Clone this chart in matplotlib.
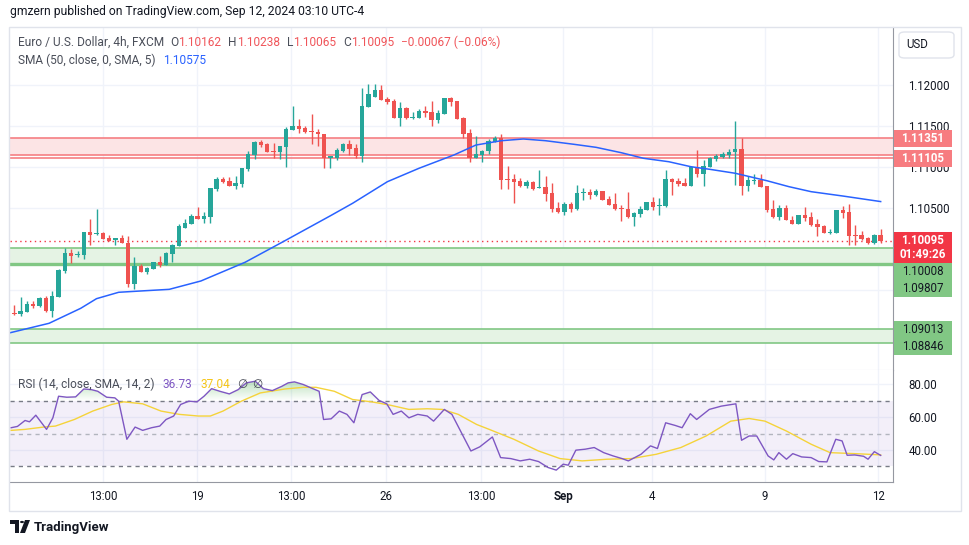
import numpy as np
import matplotlib
matplotlib.use('Agg')
import matplotlib.pyplot as plt
from matplotlib.patches import Rectangle, Polygon, Circle
from matplotlib.path import Path

plt.rcParams['font.family'] = ['Roboto', 'DejaVu Sans']

# EUR/USD 4h candles
opens = [1.09216, 1.09201, 1.09229, 1.09323, 1.09298, 1.09400, 1.09241, 1.09412, 1.09730, 1.09943,
         1.09922, 1.09925, 1.10203, 1.10175, 1.10194, 1.10130, 1.10101, 1.10130, 1.10072, 1.09571,
         1.09787, 1.09718, 1.09751, 1.09836, 1.09800, 1.09938, 1.10035, 1.10252, 1.10301, 1.10399,
         1.10366, 1.10390, 1.10732, 1.10851, 1.10823, 1.10765, 1.10793, 1.10973, 1.11144, 1.11303,
         1.11279, 1.11193, 1.11181, 1.11246, 1.11454, 1.11499, 1.11478, 1.11438, 1.11429, 1.11401,
         1.11111, 1.11104, 1.11197, 1.11279, 1.11230, 1.11136, 1.11735, 1.11857, 1.11939, 1.11829,
         1.11804, 1.11600, 1.11719, 1.11600, 1.11600, 1.11682, 1.11670, 1.11576, 1.11649, 1.11837,
         1.11804, 1.11597, 1.11410, 1.11111, 1.11148, 1.11189, 1.11307, 1.11348, 1.10847, 1.10851,
         1.10823, 1.10769, 1.10814, 1.10741, 1.10753, 1.10680, 1.10496, 1.10447, 1.10545, 1.10484,
         1.10680, 1.10696, 1.10655, 1.10704, 1.10606, 1.10545, 1.10493, 1.10484, 1.10386, 1.10423,
         1.10472, 1.10566, 1.10524, 1.10524, 1.10851, 1.10826, 1.10802, 1.10769, 1.11001, 1.10916,
         1.11001, 1.11095, 1.11123, 1.11144, 1.11177, 1.11218, 1.10769, 1.10826, 1.10839, 1.10765,
         1.10480, 1.10390, 1.10493, 1.10346, 1.10304, 1.10411, 1.10386, 1.10301, 1.10276, 1.10194,
         1.10194, 1.10468, 1.10447, 1.10170, 1.10166, 1.10126, 1.10065, 1.10162]
highs = [1.09311, 1.09412, 1.09363, 1.09359, 1.09412, 1.09421, 1.09482, 1.09751, 1.10007, 1.09995,
         1.09971, 1.10207, 1.10362, 1.10484, 1.10203, 1.10166, 1.10130, 1.10166, 1.10154, 1.09901,
         1.09812, 1.09779, 1.09836, 1.09913, 1.09962, 1.10056, 1.10301, 1.10362, 1.10423, 1.10509,
         1.10447, 1.10745, 1.10872, 1.10872, 1.10879, 1.10888, 1.10990, 1.11193, 1.11310, 1.11328,
         1.11285, 1.11287, 1.11254, 1.11487, 1.11743, 1.11584, 1.11499, 1.11649, 1.11462, 1.11405,
         1.11128, 1.11230, 1.11295, 1.11324, 1.11279, 1.11960, 1.12012, 1.12012, 1.12000, 1.11857,
         1.11829, 1.11789, 1.11725, 1.11666, 1.11707, 1.11743, 1.11801, 1.11694, 1.11841, 1.11857,
         1.11810, 1.11609, 1.11458, 1.11377, 1.11202, 1.11336, 1.11377, 1.11401, 1.11010, 1.10908,
         1.10859, 1.10839, 1.10826, 1.10965, 1.10888, 1.10802, 1.10570, 1.10566, 1.10566, 1.10781,
         1.10744, 1.10729, 1.10729, 1.10710, 1.10639, 1.10680, 1.10533, 1.10692, 1.10444, 1.10524,
         1.10570, 1.10634, 1.10615, 1.10961, 1.10867, 1.10859, 1.10859, 1.11004, 1.11209, 1.11083,
         1.11120, 1.11153, 1.11181, 1.11218, 1.11560, 1.11348, 1.10891, 1.10908, 1.10908, 1.10771,
         1.10590, 1.10533, 1.10533, 1.10399, 1.10411, 1.10509, 1.10451, 1.10362, 1.10283, 1.10243,
         1.10472, 1.10521, 1.10549, 1.10289, 1.10215, 1.10136, 1.10178, 1.10238]
lows = [1.09188, 1.09176, 1.09225, 1.09277, 1.09292, 1.09229, 1.09160, 1.09405, 1.09705, 1.09828,
        1.09901, 1.09877, 1.10044, 1.10166, 1.10113, 1.10093, 1.10048, 1.10065, 1.09531, 1.09510,
        1.09718, 1.09686, 1.09745, 1.09779, 1.09794, 1.09836, 1.10032, 1.10246, 1.10295, 1.10366,
        1.10317, 1.10317, 1.10708, 1.10802, 1.10765, 1.10732, 1.10757, 1.10949, 1.11099, 1.11242,
        1.11175, 1.11108, 1.11099, 1.11001, 1.11450, 1.11410, 1.11410, 1.11282, 1.11260, 1.10989,
        1.10989, 1.11087, 1.11185, 1.11144, 1.11111, 1.11062, 1.11731, 1.11853, 1.11817, 1.11764,
        1.11593, 1.11502, 1.11581, 1.11581, 1.11597, 1.11609, 1.11502, 1.11532, 1.11645, 1.11747,
        1.11584, 1.11356, 1.11062, 1.11108, 1.11062, 1.11160, 1.11300, 1.10732, 1.10732, 1.10561,
        1.10757, 1.10744, 1.10713, 1.10735, 1.10586, 1.10451, 1.10435, 1.10411, 1.10447, 1.10472,
        1.10598, 1.10606, 1.10649, 1.10590, 1.10527, 1.10478, 1.10337, 1.10370, 1.10276, 1.10383,
        1.10466, 1.10476, 1.10411, 1.10512, 1.10655, 1.10769, 1.10762, 1.10765, 1.10879, 1.10769,
        1.10998, 1.11075, 1.11104, 1.11111, 1.10778, 1.10655, 1.10704, 1.10793, 1.10753, 1.10451,
        1.10370, 1.10350, 1.10345, 1.10304, 1.10301, 1.10337, 1.10280, 1.10158, 1.10190, 1.10182,
        1.10190, 1.10378, 1.10044, 1.10044, 1.10111, 1.10060, 1.10060, 1.10065]
closes = [1.09201, 1.09237, 1.09323, 1.09298, 1.09400, 1.09241, 1.09421, 1.09738, 1.09943, 1.09910,
          1.09934, 1.10203, 1.10170, 1.10194, 1.10117, 1.10097, 1.10130, 1.10065, 1.09571, 1.09787,
          1.09718, 1.09767, 1.09836, 1.09800, 1.09946, 1.10044, 1.10280, 1.10309, 1.10399, 1.10366,
          1.10399, 1.10741, 1.10851, 1.10814, 1.10765, 1.10802, 1.10985, 1.11156, 1.11303, 1.11270,
          1.11181, 1.11181, 1.11254, 1.11462, 1.11499, 1.11462, 1.11429, 1.11425, 1.11395, 1.11105,
          1.11128, 1.11202, 1.11279, 1.11221, 1.11136, 1.11743, 1.11890, 1.11939, 1.11820, 1.11796,
          1.11600, 1.11719, 1.11600, 1.11612, 1.11682, 1.11658, 1.11576, 1.11654, 1.11837, 1.11796,
          1.11588, 1.11405, 1.11111, 1.11153, 1.11189, 1.11315, 1.11356, 1.10839, 1.10835, 1.10814,
          1.10769, 1.10814, 1.10732, 1.10753, 1.10671, 1.10484, 1.10447, 1.10545, 1.10488, 1.10680,
          1.10692, 1.10655, 1.10704, 1.10598, 1.10533, 1.10484, 1.10484, 1.10386, 1.10435, 1.10484,
          1.10566, 1.10505, 1.10537, 1.10851, 1.10814, 1.10786, 1.10762, 1.11001, 1.10912, 1.11010,
          1.11111, 1.11136, 1.11160, 1.11181, 1.11218, 1.10769, 1.10835, 1.10839, 1.10757, 1.10468,
          1.10390, 1.10493, 1.10350, 1.10304, 1.10411, 1.10378, 1.10289, 1.10268, 1.10194, 1.10207,
          1.10468, 1.10439, 1.10158, 1.10158, 1.10117, 1.10065, 1.10166, 1.10095]

# SMA(50) line, read at candle positions
sma_pos = [-1, 5.5, 10.5, 13, 16.5, 20, 24.5, 29.5, 36.5, 42.5, 50, 53.5, 59, 64, 69.5, 73, 77,
           80.5, 84, 88.5, 92, 96, 99.5, 103.5, 107, 110, 114, 119, 122.5, 126, 131, 137]
sma_vals = [1.08965, 1.09087, 1.09270, 1.09388, 1.09466, 1.09482, 1.09502, 1.09604, 1.09833,
            1.10084, 1.10402, 1.10554, 1.10818, 1.10982, 1.11144, 1.11266, 1.11319, 1.11340,
            1.11319, 1.11275, 1.11238, 1.11172, 1.11104, 1.11062, 1.11001, 1.10969, 1.10921,
            1.10830, 1.10757, 1.10696, 1.10643, 1.10575]

# RSI(14) and its 14-period average
rsi_pos = [-0.5, 0.5, 1.7, 2.4, 3.4, 5.1, 6.1, 7.0, 8.3, 9.7, 11.0, 12.2, 13.2, 14.6, 15.9, 16.5,
           17.8, 19.1, 20.3, 21.7, 23.0, 24.0, 25.2, 26.3, 27.6, 28.9, 30.0, 31.2, 32.5, 34.0,
           35.4, 36.7, 38.1, 39.4, 40.8, 42.3, 43.3, 44.3, 45.7, 47.2, 48.2, 48.9, 50.1, 51.4,
           52.6, 53.7, 55.0, 56.3, 57.7, 58.9, 59.9, 61.2, 62.4, 63.8, 65.3, 66.3, 68.0, 69.2,
           70.7, 72.2, 73.6, 75.6, 76.9, 78.5, 80.0, 81.5, 82.9, 84.4, 85.7, 86.8, 87.6, 88.8,
           90.3, 91.7, 93.2, 94.7, 96.1, 97.1, 99.1, 100.6, 101.7, 103.0, 104.5, 105.6, 106.9,
           107.9, 109.9, 111.8, 114.1, 115.0, 116.2, 117.4, 119.2, 120.1, 120.9, 122.1, 123.1,
           124.5, 126.0, 127.2, 128.5, 129.9, 130.9, 131.7, 132.9, 134.3, 135.0, 136.0, 137.0]
rsi_vals = [53.5, 54.3, 57.9, 57.1, 61.1, 52.5, 59.5, 72.6, 72.0, 72.2, 77.0, 76.6, 75.6, 72.0,
            71.6, 69.6, 46.5, 53.9, 51.9, 53.5, 54.5, 58.5, 60.6, 67.6, 69.6, 69.2, 72.6, 77.2,
            75.6, 74.0, 76.6, 80.7, 81.7, 77.2, 76.0, 78.6, 80.7, 81.3, 79.7, 77.2, 75.6, 58.5,
            58.9, 63.6, 61.6, 56.5, 73.6, 75.2, 70.0, 68.0, 61.6, 63.6, 59.5, 61.6, 60.6, 57.5,
            64.6, 61.6, 50.5, 39.4, 41.9, 47.9, 35.4, 34.8, 33.4, 34.4, 33.0, 29.4, 27.8, 31.4,
            30.8, 39.9, 40.5, 41.5, 38.4, 36.4, 34.8, 33.4, 37.4, 42.5, 40.9, 56.5, 54.9, 53.5,
            62.0, 58.5, 64.6, 66.6, 68.0, 45.9, 48.5, 48.5, 36.4, 34.0, 38.4, 34.4, 37.8, 35.8,
            35.4, 33.0, 32.8, 46.5, 45.5, 36.8, 37.0, 36.2, 34.4, 39.0, 36.73]
rsi_ma_pos = [-0.5, 1.7, 4.6, 6.5, 9.5, 12.4, 15.4, 17.3, 20.3, 23.2, 26.1, 29.1, 31.0, 33.0,
              35.9, 38.9, 42.8, 45.7, 47.7, 50.6, 53.5, 56.5, 59.4, 62.4, 65.3, 67.7, 70.2, 73.1,
              75.1, 79.0, 82.9, 86.3, 89.8, 93.7, 97.6, 101.5, 105.4, 109.4, 113.3, 116.2, 118.7,
              122.1, 126.0, 129.0, 132.9, 137.0]
rsi_ma_vals = [51.9, 52.5, 53.9, 54.5, 58.5, 63.6, 67.6, 69.2, 68.0, 63.6, 61.6, 60.6, 60.6, 63.6,
               69.6, 74.6, 77.0, 78.0, 78.0, 75.6, 70.6, 69.2, 67.2, 64.6, 65.0, 64.6, 61.6, 55.5,
               52.5, 46.5, 39.4, 34.8, 33.4, 34.4, 34.8, 37.4, 41.5, 48.5, 57.5, 59.1, 57.5, 51.5,
               43.5, 38.4, 37.8, 37.04]

# horizontal zones drawn on the chart
red_zone = (1.11141, 1.11351)
red_line = 1.11105
green_zone_1 = (1.09807, 1.10008)
green_zone_2 = (1.08846, 1.09013)

price_ticks = [1.090, 1.095, 1.100, 1.105, 1.110, 1.115, 1.120]
price_tick_labels = ['', '', '', '1.10500', '1.11000', '1.11500', '1.12000']  # lower ones sit under the tags

tick_pos = [14.0, 28.9, 43.75, 58.8, 73.8, 86.8, 100.8, 118.7, 136.6]
tick_labels = ['13:00', '19', '13:00', '26', '13:00', 'Sep', '4', '9', '12']

UP = '#26A69A'
DOWN = '#EF5350'
TXT = '#131722'
GRID = '#F0F3FA'
AXIS = '#9598A1'

W, H = 970, 545
def fx(px):
    return px / W
def fy(py):
    return 1 - py / H

fig = plt.figure(figsize=(9.7, 5.45), dpi=100)
ax = fig.add_axes([fx(10), fy(370), (893 - 10) / W, (370 - 27) / H])
ax_rsi = fig.add_axes([fx(10), fy(482), (893 - 10) / W, (482 - 370) / H], sharex=ax)

y_top, y_bot = 1.12709, 1.08516
x_lo, x_hi = -0.68, 138.95

# --- price pane ---
o = np.array(opens); h = np.array(highs); l = np.array(lows); c = np.array(closes)
x = np.arange(len(o))
col = np.where(c >= o, UP, DOWN)
ax.vlines(x, l, h, colors=col, lw=1, zorder=3)
body = np.maximum(np.abs(c - o), 0.00012)
ax.bar(x, body, bottom=np.minimum(o, c), width=0.7, color=col, zorder=4)

ax.axhspan(*red_zone, color='#FCE4E5', zorder=1, lw=0)
for v in (red_zone[0], red_zone[1], red_line):
    ax.axhline(v, color='#F57F83', lw=1.2, zorder=2)
ax.axhspan(*green_zone_1, color='#E5F3E4', zorder=1, lw=0)
ax.axhline(green_zone_1[1], color='#81C784', lw=1.2, zorder=2)
ax.axhline(green_zone_1[0], color='#81C784', lw=2.4, zorder=2)
ax.axhspan(*green_zone_2, color='#E5F3E4', zorder=1, lw=0)
for v in green_zone_2:
    ax.axhline(v, color='#81C784', lw=1.2, zorder=2)

ax.plot(sma_pos, sma_vals, color='#2962FF', lw=1.1, zorder=5)
ax.axhline(closes[-1], color='#F23645', lw=1, ls=(0, (1, 2.5)), zorder=2)

ax.set_xlim(x_lo, x_hi)
ax.set_ylim(y_bot, y_top)
ax.set_yticks(price_ticks)
ax.set_yticklabels(price_tick_labels)
ax.yaxis.tick_right()
ax.tick_params(axis='y', length=0, pad=11, labelsize=8.3, labelcolor=TXT)
ax.tick_params(axis='x', length=0, labelbottom=False)
ax.set_xticks(tick_pos)
ax.grid(True, color=GRID, lw=1, zorder=0)
ax.set_axisbelow(True)
for s in ('top', 'left'):
    ax.spines[s].set_visible(False)
ax.spines['right'].set_color(AXIS)
ax.spines['bottom'].set_color('#D1D4DC')

# --- RSI pane ---
rsi_x = np.array(rsi_pos); rsi_y = np.array(rsi_vals)
ax_rsi.axhspan(30, 70, color='#7E57C2', alpha=0.09, lw=0, zorder=1)
ax_rsi.axhline(70, color='#787B86', lw=1, ls=(0, (3, 3)), zorder=2)
ax_rsi.axhline(30, color='#787B86', lw=1, ls=(0, (3, 3)), zorder=2)
ax_rsi.axhline(50, color='#B2B5BE', lw=1, ls=(0, (3, 3)), zorder=2)

ob = ax_rsi.fill_between(rsi_x, 70, rsi_y, where=rsi_y > 70, interpolate=True,
                         color='none', lw=0)
paths = ob.get_paths()
if paths:
    grad = np.zeros((100, 1, 4))
    grad[..., :3] = matplotlib.colors.to_rgb('#4CAF50')
    grad[..., 3] = np.linspace(0.0, 0.4, 100)[:, None]
    im = ax_rsi.imshow(grad, extent=[x_lo, x_hi, 70, 83], origin='lower',
                       aspect='auto', zorder=2)
    im.set_clip_path(Path.make_compound_path(*paths), ax_rsi.transData)

ax_rsi.plot(rsi_ma_pos, rsi_ma_vals, color='#F5D33A', lw=1, zorder=3)
ax_rsi.plot(rsi_x, rsi_y, color='#7E57C2', lw=1, zorder=4)

ax_rsi.set_xlim(x_lo, x_hi)
ax_rsi.set_ylim(20.6, 88.5)
ax_rsi.set_yticks([40, 60, 80])
ax_rsi.yaxis.set_major_formatter(matplotlib.ticker.StrMethodFormatter('{x:.2f}'))
ax_rsi.yaxis.tick_right()
ax_rsi.tick_params(axis='y', length=0, pad=11, labelsize=8.3, labelcolor=TXT)
ax_rsi.set_xticks(tick_pos)
ax_rsi.set_xticklabels(tick_labels)
ax_rsi.tick_params(axis='x', length=0, pad=6, labelsize=8.3, labelcolor=TXT)
ax_rsi.get_xticklabels()[5].set_fontweight('bold')
ax_rsi.grid(True, color=GRID, lw=1, zorder=0)
ax_rsi.set_axisbelow(True)
for s in ('top', 'left'):
    ax_rsi.spines[s].set_visible(False)
ax_rsi.spines['right'].set_color(AXIS)
ax_rsi.spines['bottom'].set_color(AXIS)

# --- frame and header texts ---
fig.add_artist(Rectangle((fx(9), fy(511)), (961 - 9) / W, (511 - 27) / H,
                         transform=fig.transFigure, fill=False, ec='#E0E3EB', lw=1))
fig.text(fx(10), fy(12), 'gmzern published on TradingView.com, Sep 12, 2024 03:10 UTC-4',
         fontsize=8.7, color=TXT, va='center')

renderer = fig.canvas.get_renderer()
def segments(x0, y0, parts, size=8.6):
    xx = x0
    for s, colr, gap in parts:
        t = fig.text(fx(xx), fy(y0), s, color=colr, fontsize=size, va='center', ha='left')
        xx += t.get_window_extent(renderer).width + gap

GREY = '#4A4E59'
RED = '#F0555A'
segments(18, 42, [('Euro / U.S. Dollar, 4h, FXCM', GREY, 6), ('O', GREY, 0), ('1.10162', RED, 7),
                  ('H', GREY, 0), ('1.10238', RED, 7), ('L', GREY, 0), ('1.10065', RED, 7),
                  ('C', GREY, 0), ('1.10095', RED, 7), ('\u22120.00067 (\u22120.06%)', RED, 0)])
segments(18, 60, [('SMA (50, close, 0, SMA, 5)', GREY, 8), ('1.10575', '#2962FF', 0)])
segments(18, 384, [('RSI (14, close, SMA, 14, 2)', GREY, 8), ('36.73', '#7E57C2', 8),
                   ('37.04', '#F5C518', 7), ('\u2205', GREY, 5), ('\u2205', GREY, 0)])

# USD box
fig.add_artist(matplotlib.patches.FancyBboxPatch((fx(899), fy(58)), 55 / W, 26 / H,
               boxstyle='round,pad=0,rounding_size=0.006', transform=fig.transFigure,
               fc='white', ec='#E0E3EB', lw=1))
fig.text(fx(906), fy(45), 'USD', fontsize=8.3, color=TXT, va='center')

# --- price tags on the axis ---
def price_py(p):
    return 27 + (y_top - p) / (y_top - y_bot) * 343

tags = [(red_zone[1], ['1.11351'], '#F77C80', 'white'),
        (red_line, ['1.11105'], '#F77C80', 'white'),
        (closes[-1], ['1.10095', '01:49:26'], '#F23645', 'white'),
        (green_zone_1[1], ['1.10008'], '#81C784', TXT),
        (green_zone_1[0], ['1.09807'], '#81C784', TXT),
        (green_zone_2[1], ['1.09013'], '#81C784', TXT),
        (green_zone_2[0], ['1.08846'], '#81C784', TXT)]
prev_bottom = 0
for p, lines, bg, fg in tags:
    hh = 17 + 14 * (len(lines) - 1)
    top = max(price_py(p) - 8.5, prev_bottom)
    prev_bottom = top + hh
    fig.add_artist(Rectangle((fx(894), fy(top + hh)), 58 / W, hh / H,
                             transform=fig.transFigure, fc=bg, ec='none', zorder=5))
    for k, s in enumerate(lines):
        fig.text(fx(923), fy(top + 8.5 + 14 * k), s, fontsize=8.3, color=fg, ha='center',
                 va='center', fontweight='bold' if fg == 'white' else 'normal', zorder=6)

# --- TradingView logo ---
fig.add_artist(Polygon([(fx(10), fy(520)), (fx(19), fy(520)), (fx(19), fy(533)), (fx(15), fy(533)),
                        (fx(15), fy(524)), (fx(10), fy(524))], closed=True,
                       transform=fig.transFigure, fc=TXT, ec='none'))
fig.add_artist(Circle((fx(22), fy(522)), 2 / W, transform=fig.transFigure, fc=TXT, ec='none'))
fig.add_artist(Polygon([(fx(25), fy(520)), (fx(30), fy(520)), (fx(25), fy(533)), (fx(20), fy(533))],
                       closed=True, transform=fig.transFigure, fc=TXT, ec='none'))
fig.text(fx(34), fy(527), 'TradingView', fontsize=9.5, fontweight='bold', color=TXT, va='center')

fig.savefig('out.png', dpi=100)
